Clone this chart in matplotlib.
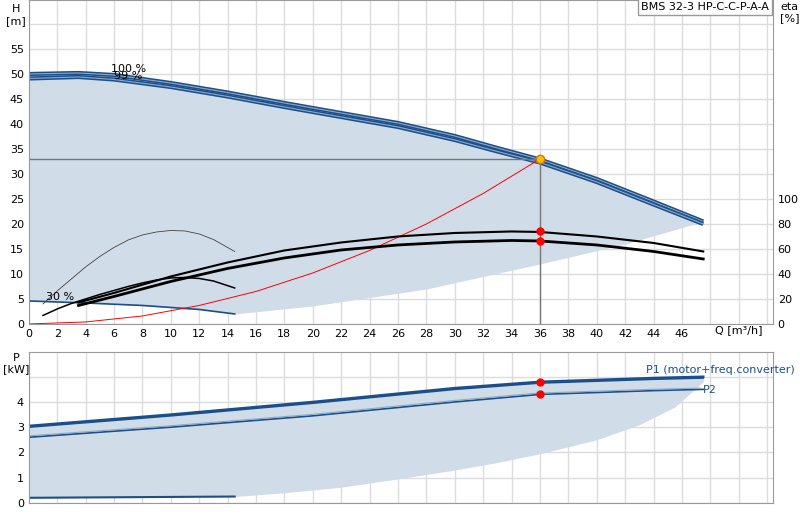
import matplotlib
matplotlib.use("Agg")
import matplotlib.pyplot as plt
import numpy as np

# ---- data ----
q_max = [0, 3.5, 6, 10, 14, 18, 22, 26, 30, 33, 36, 40, 44, 47.5]
h_100 = [50.0, 50.2, 49.8, 48.2, 46.3, 44.2, 42.2, 40.2, 37.6, 35.2, 32.9, 29.0, 24.5, 20.5]
h_99 = [49.1, 49.4, 48.9, 47.4, 45.5, 43.4, 41.4, 39.4, 36.8, 34.5, 32.3, 28.4, 23.9, 20.0]
q_30 = [0, 4, 8, 12, 14.5]
h_30 = [4.6, 4.2, 3.7, 2.9, 2.0]
q_low = [14.5, 20, 28, 36, 42, 47.5]
h_low = [2.0, 3.6, 7.0, 12.0, 16.0, 20.5]
q_sys = [0, 4, 8, 12, 16, 20, 24, 28, 32, 36]
h_sys = [0, 0.4, 1.6, 3.7, 6.5, 10.2, 14.7, 20.0, 26.1, 33.0]
q_eta = [3.5, 6, 10, 14, 18, 22, 26, 30, 34, 36, 40, 44, 47.5]
eta_hi = [4.3, 6.2, 9.5, 12.3, 14.7, 16.3, 17.5, 18.2, 18.5, 18.4, 17.5, 16.2, 14.5]
eta_lo = [3.7, 5.5, 8.5, 11.1, 13.2, 14.8, 15.8, 16.4, 16.7, 16.6, 15.8, 14.5, 13.0]
q_arc1 = [1, 2, 3, 4, 5, 6, 7, 8, 9, 10, 11, 12, 13, 14.5]
h_arc1 = [4.0, 6.6, 9.0, 11.4, 13.5, 15.3, 16.8, 17.8, 18.4, 18.7, 18.6, 18.0, 16.9, 14.5]
q_arc2 = [1, 2, 3, 4, 5, 6, 7, 8, 9, 10, 11, 12, 13, 14.5]
h_arc2 = [1.7, 3.0, 4.1, 5.0, 5.9, 6.7, 7.5, 8.2, 8.8, 9.2, 9.3, 9.1, 8.6, 7.2]
q_duty, h_duty = 36, 33
eta_duty = [18.5, 16.6]

q_p = [0, 10, 20, 30, 36, 44, 47.5]
p1 = [3.05, 3.5, 4.0, 4.55, 4.8, 4.95, 5.0]
p1b = [3.0, 3.45, 3.95, 4.5, 4.75, 4.9, 4.95]
p2 = [2.6, 3.0, 3.45, 4.0, 4.3, 4.45, 4.5]
q_p30 = [0, 14.5]
p_30 = [0.2, 0.25]
q_plow = [14.5, 18, 22, 26, 30, 33, 36, 40, 43, 45.5, 47.5]
p_low = [0.25, 0.4, 0.62, 0.95, 1.3, 1.6, 1.95, 2.5, 3.1, 3.8, 4.8]
p_duty = [4.8, 4.33]

dark = "#1b4f8a"
light = "#8fa9c8"
fill = "#d0dce7"
grid = "#dcdcdc"

fig = plt.figure(figsize=(8, 5.2), dpi=100)
ax = fig.add_axes([0.036, 0.377, 0.93, 0.623])
axp = fig.add_axes([0.036, 0.033, 0.93, 0.29])

for a in (ax, axp):
    a.set_xlim(0, 52.4)
    a.set_xticks(np.arange(0, 53, 2))
    a.grid(True, color=grid, lw=1)
    a.set_axisbelow(True)
    for s in a.spines.values():
        s.set_color("#999999")
    a.tick_params(length=0, labelsize=8)

# ---- head plot ----
ax.set_ylim(0, 64.8)
ax.set_yticks(np.arange(0, 61, 5))
ax.set_yticklabels([str(v) if v <= 55 else "" for v in range(0, 61, 5)])
ax.set_xticklabels([str(v) if v <= 46 else "" for v in range(0, 53, 2)])
ax.text(48.3, -0.3, "Q [m³/h]", fontsize=8, va="top")

qq = np.linspace(0, 47.5, 300)
upper = np.interp(qq, q_max, h_100)
lower = np.where(qq <= 14.5, np.interp(qq, q_30, h_30), np.interp(qq, q_low, h_low))
ax.fill_between(qq, lower, upper, color=fill, lw=0)

for q, h in [(q_max, h_100), (q_max, h_99)]:
    ax.plot(q, h, color=dark, lw=3, solid_capstyle="butt")
    ax.plot(q, h, color=light, lw=0.8)
ax.plot(q_30, h_30, color=dark, lw=1.2)
ax.plot(q_sys, h_sys, color="red", lw=0.7)
ax.plot(q_eta, eta_hi, color="black", lw=1.5)
ax.plot(q_eta, eta_lo, color="black", lw=2)
ax.plot(q_arc1, h_arc1, color="#444444", lw=0.6)
ax.plot(q_arc2, h_arc2, color="black", lw=1.1)
ax.plot([0, q_duty], [h_duty, h_duty], color="#777777", lw=1)
ax.plot([q_duty, q_duty], [0, h_duty], color="#777777", lw=1)
ax.plot(q_duty, h_duty, "o", color="#ffc000", ms=6, mec="#e07000")
ax.plot([q_duty] * 2, eta_duty, "o", color="red", ms=5)
ax.text(5.8, 50.4, "100 %", fontsize=8)
ax.text(6.0, 49.0, "99 %", fontsize=8)
ax.text(1.2, 4.8, "30 %", fontsize=8)
ax.text(-0.9, 64, "H\n[m]", fontsize=8, ha="center", va="top")

axr = ax.twinx()
axr.set_ylim(0, 64.8 * 4)
axr.set_yticks(np.arange(0, 101, 20))
axr.tick_params(length=0, labelsize=8)
for s in axr.spines.values():
    s.set_visible(False)
axr.text(1.01, 0.995, "eta\n[%]", transform=ax.transAxes, fontsize=8, va="top")
ax.text(0.995, 0.995, "BMS 32-3 HP-C-C-P-A-A", transform=ax.transAxes, fontsize=8,
        ha="right", va="top",
        bbox=dict(boxstyle="square,pad=0.3", fc="white", ec="#999999"))

# ---- power plot ----
axp.set_ylim(0, 5.98)
axp.set_yticks(np.arange(0, 6, 1))
axp.set_yticklabels(["0", "1", "2", "3", "4", ""])
axp.set_xticklabels([])
pl = np.where(qq <= 14.5, np.interp(qq, q_p30, p_30), np.interp(qq, q_plow, p_low))
axp.fill_between(qq, pl, np.interp(qq, q_p, p1), color=fill, lw=0)
axp.plot(q_p, p1, color=dark, lw=1.8)
axp.plot(q_p, p1b, color=dark, lw=1.2)
axp.plot(q_p, p2, color=dark, lw=1.2)
axp.plot([v - 0.2 for v in q_p], [v + 0.05 for v in p2], color=light, lw=0.8)
axp.plot(q_p30, p_30, color=dark, lw=1.5)
axp.plot([q_duty] * 2, p_duty, "o", color="red", ms=5)
axp.text(43.5, 5.15, "P1 (motor+freq.converter)", fontsize=8, color=dark)
axp.text(47.5, 4.35, "P2", fontsize=8, color=dark)
axp.text(-0.9, 5.95, "P\n[kW]", fontsize=8, ha="center", va="top")

fig.savefig("out.png", dpi=100)
